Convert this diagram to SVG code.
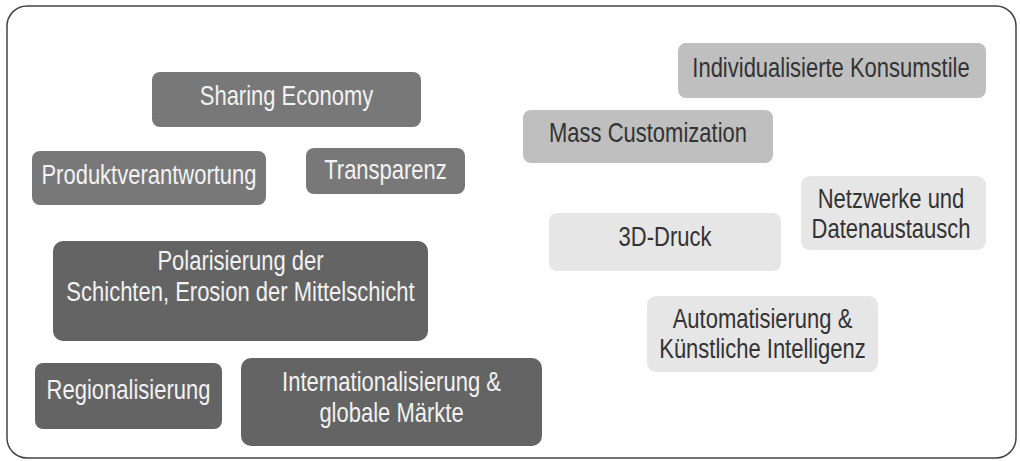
<svg xmlns="http://www.w3.org/2000/svg" width="1020" height="461" viewBox="0 0 1020 461">
<style>
  text { font-family: "Liberation Sans", Arial, sans-serif; font-size: 22px; text-anchor: middle; }
  .mid rect { fill: #787878; }
  .dark rect { fill: #646464; }
  .soft rect { fill: #bfbfbf; }
  .pale rect { fill: #e6e6e6; }
  .mid text, .dark text { fill: #f2f2f2; }
  .soft text, .pale text { fill: #333333; }
</style>
<rect x="0" y="0" width="1020" height="461" fill="#ffffff"/>
<rect id="frame" x="7" y="6" width="1009" height="452" rx="20" ry="20" fill="none" stroke="#444444" stroke-width="1.5"/>

<g id="sharing-economy" class="mid">
  <rect x="152" y="72" width="269" height="55" rx="8"/>
  <text transform="translate(286.5 105) scale(1 1.24)">Sharing Economy</text>
</g>
<g id="produktverantwortung" class="mid">
  <rect x="32" y="151" width="234" height="54" rx="8"/>
  <text transform="translate(149 184) scale(1 1.24)">Produktverantwortung</text>
</g>
<g id="transparenz" class="mid">
  <rect x="306" y="148" width="159" height="46" rx="8"/>
  <text transform="translate(385.5 179) scale(1 1.24)">Transparenz</text>
</g>
<g id="polarisierung" class="dark">
  <rect x="53" y="241" width="375" height="100" rx="10"/>
  <text transform="translate(240.5 270) scale(1 1.24)">Polarisierung der</text>
  <text transform="translate(240.5 301) scale(1 1.24)">Schichten, Erosion der Mittelschicht</text>
</g>
<g id="regionalisierung" class="dark">
  <rect x="35" y="363" width="187" height="66" rx="8"/>
  <text transform="translate(128.5 399) scale(1 1.24)">Regionalisierung</text>
</g>
<g id="internationalisierung" class="dark">
  <rect x="241" y="358" width="301" height="88" rx="10"/>
  <text transform="translate(391.5 391) scale(1 1.24)">Internationalisierung &amp;</text>
  <text transform="translate(391.5 422) scale(1 1.24)">globale Märkte</text>
</g>

<g id="individualisierte-konsumstile" class="soft">
  <rect x="678" y="43" width="308" height="55" rx="8"/>
  <text transform="translate(831 77) scale(1 1.24)">Individualisierte Konsumstile</text>
</g>
<g id="mass-customization" class="soft">
  <rect x="523" y="110" width="250" height="53" rx="8"/>
  <text transform="translate(648 142) scale(1 1.24)">Mass Customization</text>
</g>
<g id="netzwerke" class="pale">
  <rect x="801" y="176" width="185" height="74" rx="9"/>
  <text transform="translate(891 208) scale(1 1.24)">Netzwerke und</text>
  <text transform="translate(891 238) scale(1 1.24)">Datenaustausch</text>
</g>
<g id="3d-druck" class="pale">
  <rect x="549" y="213" width="232" height="58" rx="8"/>
  <text transform="translate(665 246) scale(1 1.24)">3D-Druck</text>
</g>
<g id="automatisierung" class="pale">
  <rect x="647" y="296" width="231" height="76" rx="9"/>
  <text transform="translate(762.5 328) scale(1 1.24)">Automatisierung &amp;</text>
  <text transform="translate(762.5 358) scale(1 1.24)">Künstliche Intelligenz</text>
</g>
<g id="connectors"/>
</svg>
